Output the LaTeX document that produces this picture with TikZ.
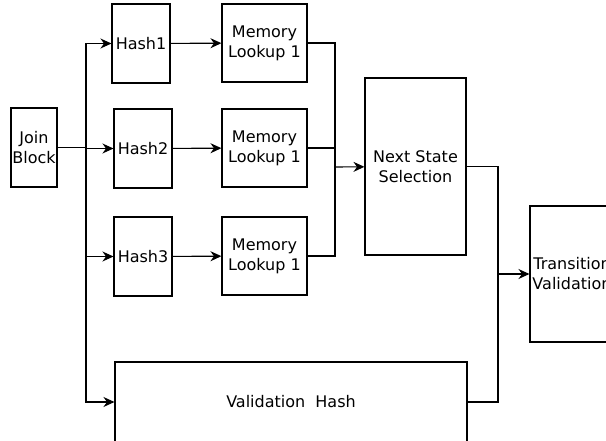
\documentclass[tikz,border=0pt]{standalone}
\usepackage{fontspec}
\setmainfont{DejaVu Sans}
\usetikzlibrary{arrows.meta}
\tikzset{
    block/.style={draw, line width=1.1pt, align=center, inner sep=1pt,
        font=\fontsize{16}{20}\selectfont},
    wire/.style={line width=1.1pt},
    arrow/.style={wire, -{Stealth[length=11pt, width=10pt]}}
}
\begin{document}
\begin{tikzpicture}[x=1pt, y=-1pt]
            \useasboundingbox (0,0) rectangle (606,441);
            \node[block, minimum width=46pt, minimum height=79pt] (join) at (34,147.5) {Join\\Block};
            \node[block, minimum width=58pt, minimum height=79pt] (hash1) at (141,43.5) {Hash1};
            \node[block, minimum width=58pt, minimum height=79pt] (hash2) at (143,148.5) {Hash2};
            \node[block, minimum width=58pt, minimum height=79pt] (hash3) at (143,256.5) {Hash3};
            \node[block, minimum width=85pt, minimum height=78pt] (mem1) at (264.5,43) {Memory\\Lookup 1};
            \node[block, minimum width=85pt, minimum height=78pt] (mem2) at (264.5,148) {Memory\\Lookup 1};
            \node[block, minimum width=85pt, minimum height=78pt] (mem3) at (264.5,256) {Memory\\Lookup 1};
            \node[block, minimum width=101pt, minimum height=177pt] (next) at (415.5,166.5) {Next State\\Selection};
            \node[block, minimum width=352pt, minimum height=80pt] (valhash) at (291,402) {Validation\ \ Hash};
            \node[block, minimum width=84pt, minimum height=136pt] (trans) at (572,274) {Transition\\Validation};

            \coordinate (split) at (86,147.5);
            \coordinate (merge) at (335,167);
            \coordinate (final) at (498,274);

            \draw[wire] (join) -- (split);
            \draw[arrow] (split) |- (hash1);
            \draw[arrow] (split) |- (hash2);
            \draw[arrow] (split) |- (hash3);
            \draw[arrow] (split) |- (valhash);

            \path
            (hash1) edge[arrow] (mem1)
            (hash2) edge[arrow] (mem2)
            (hash3) edge[arrow] (mem3);

            \draw[wire] (mem1) -| (merge);
            \draw[wire] (mem2) -| (merge);
            \draw[wire] (mem3) -| (merge);
            \draw[arrow] (merge) -- (next);

            \draw[wire] (next) -| (final);
            \draw[wire] (valhash) -| (final);
            \draw[arrow] (final) -- (trans);
        \end{tikzpicture}
\end{document}
